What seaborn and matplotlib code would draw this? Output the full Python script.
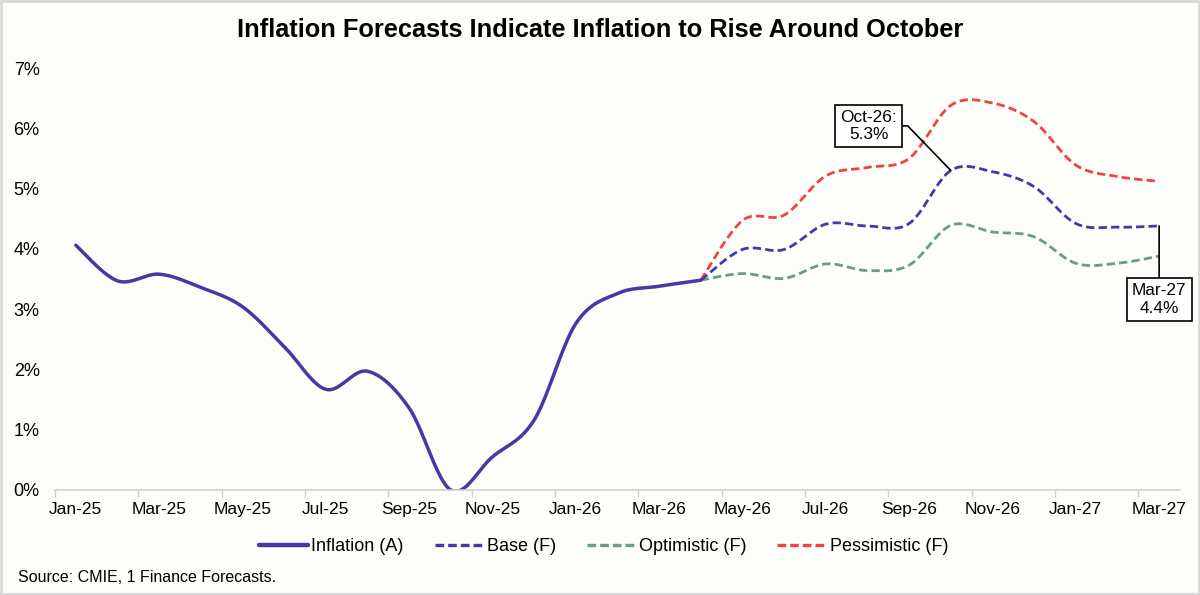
import numpy as np
import pandas as pd
import matplotlib
matplotlib.use("Agg")
import matplotlib.pyplot as plt
from matplotlib.lines import Line2D
from matplotlib.patches import Rectangle
import seaborn as sns

# Month labels, Jan-25 .. Mar-27
months = ["Jan-25", "Feb-25", "Mar-25", "Apr-25", "May-25", "Jun-25", "Jul-25", "Aug-25", "Sep-25",
          "Oct-25", "Nov-25", "Dec-25", "Jan-26", "Feb-26", "Mar-26", "Apr-26", "May-26", "Jun-26",
          "Jul-26", "Aug-26", "Sep-26", "Oct-26", "Nov-26", "Dec-26", "Jan-27", "Feb-27", "Mar-27"]

# Actual inflation, Jan-25 .. Apr-26 (%)
actual = [4.06, 3.47, 3.58, 3.36, 3.04, 2.38, 1.67, 1.97, 1.36, 0.0, 0.55, 1.16, 2.76, 3.26, 3.38, 3.48]

# Forecasts, Apr-26 .. Mar-27 (%)
base = [3.48, 3.99, 3.99, 4.41, 4.38, 4.42, 5.30, 5.28, 5.03, 4.42, 4.36, 4.38]
optimistic = [3.48, 3.59, 3.51, 3.75, 3.64, 3.73, 4.39, 4.28, 4.20, 3.76, 3.76, 3.88]
pessimistic = [3.48, 4.47, 4.56, 5.21, 5.35, 5.50, 6.38, 6.42, 6.11, 5.39, 5.20, 5.12]

yticks = [0, 1, 2, 3, 4, 5, 6, 7]

purple = "#4B36A6"
green = "#6A9C86"
red = "#F04444"
bg = "#FDFDFA"


def smooth(xs, ys, n=24):
    # Excel-style smoothed line (Catmull-Rom bezier through the points)
    p = np.column_stack([xs, ys]).astype(float)
    ext = np.vstack([p[0], p, p[-1]])
    out = []
    t = np.linspace(0, 1, n, endpoint=False)[:, None]
    for i in range(len(p) - 1):
        p0, p1, p2, p3 = ext[i], ext[i + 1], ext[i + 2], ext[i + 3]
        c1 = p1 + (p2 - p0) / 6
        c2 = p2 - (p3 - p1) / 6
        seg = ((1 - t) ** 3) * p1 + 3 * ((1 - t) ** 2) * t * c1 + 3 * (1 - t) * t ** 2 * c2 + t ** 3 * p2
        out.append(seg)
    out.append(p[-1][None, :])
    out = np.vstack(out)
    return out[:, 0], out[:, 1]


sns.set_theme(style="white")
plt.rcParams["font.family"] = ["Liberation Sans", "DejaVu Sans"]
plt.rcParams["text.color"] = "black"
plt.rcParams["xtick.color"] = "black"
plt.rcParams["ytick.color"] = "black"

fig = plt.figure(figsize=(12, 5.95), dpi=100, facecolor=bg)
ax = fig.add_axes([0.0458, 0.1765, 0.9375, 0.7092])
ax.set_facecolor(bg)

x_act = np.arange(len(actual))
x_fc = np.arange(len(actual) - 1, len(months))

series = [
    ("Pessimistic (F)", x_fc, pessimistic, red),
    ("Optimistic (F)", x_fc, optimistic, green),
    ("Base (F)", x_fc, base, purple),
]
for name, xs, ys, col in series:
    sx, sy = smooth(xs, ys)
    df = pd.DataFrame({"x": sx, "y": sy})
    sns.lineplot(data=df, x="x", y="y", ax=ax, color=col, linewidth=2.0, sort=False,
                 estimator=None)
    ax.lines[-1].set_dashes((3.0, 1.5))

sx, sy = smooth(x_act, actual)
sns.lineplot(data=pd.DataFrame({"x": sx, "y": sy}), x="x", y="y", ax=ax, color=purple,
             linewidth=2.5, sort=False, estimator=None)

ax.set_xlim(-0.5, len(months) - 0.5)
ax.set_ylim(0, 7)
ax.set_xlabel("")
ax.set_ylabel("")

ax.set_xticks(np.arange(0, len(months), 2))
ax.set_xticklabels(months[::2], fontsize=12.5)
ax.set_xticks(np.arange(-0.5, len(months) - 1, 2), minor=True)
ax.tick_params(axis="x", which="major", length=0, pad=9)
ax.tick_params(axis="x", which="minor", bottom=True, length=5, width=1, color="#D0D0D0")
ax.set_yticks(yticks)
ax.set_yticklabels([f"{v}%" for v in yticks], fontsize=13)
ax.tick_params(axis="y", length=0, pad=11)

for s in ["top", "right", "left"]:
    ax.spines[s].set_visible(False)
ax.spines["bottom"].set_color("#D0D0D0")
ax.spines["bottom"].set_linewidth(1.2)

# Callouts
box = dict(boxstyle="square,pad=0.3", fc="white", ec="black", lw=1.2)
i_oct = months.index("Oct-26")
ax.annotate("Oct-26:\n5.3%", xy=(i_oct, base[i_oct - (len(actual) - 1)]), xytext=(19.03, 6.04),
            ha="center", va="center", fontsize=12.4, linespacing=1.2, bbox=box,
            arrowprops=dict(arrowstyle="-", color="black", lw=1.2, shrinkA=0, shrinkB=0,
                            connectionstyle="angle,angleA=0,angleB=134,rad=0"))
i_mar = months.index("Mar-27")
ax.annotate("Mar-27\n4.4%", xy=(i_mar, base[-1]), xytext=(26.0, 3.16),
            ha="center", va="center", fontsize=12.4, linespacing=1.2, bbox=box,
            arrowprops=dict(arrowstyle="-", color="black", lw=1.2, shrinkA=0, shrinkB=0))

fig.suptitle("Inflation Forecasts Indicate Inflation to Rise Around October",
             x=0.5, y=0.949, fontsize=18.3, fontweight="bold", va="center")

handles = [
    Line2D([], [], color=purple, lw=3.2),
    Line2D([], [], color=purple, lw=2.4, dashes=(2.6, 1.2)),
    Line2D([], [], color=green, lw=2.4, dashes=(2.6, 1.2)),
    Line2D([], [], color=red, lw=2.4, dashes=(2.6, 1.2)),
]
fig.legend(handles, ["Inflation (A)", "Base (F)", "Optimistic (F)", "Pessimistic (F)"],
           loc="center", bbox_to_anchor=(0.503, 0.081), ncol=4, frameon=False, fontsize=13,
           handlelength=2.7, columnspacing=1.7, handletextpad=0.2)

fig.text(0.015, 0.029, "Source: CMIE, 1 Finance Forecasts.", fontsize=11.5, va="center")

fig.patches.append(Rectangle((0.001, 0.002), 0.998, 0.996, transform=fig.transFigure,
                             fill=False, ec="#D9D9D9", lw=2))

fig.savefig("out.png", dpi=100, facecolor=bg)
